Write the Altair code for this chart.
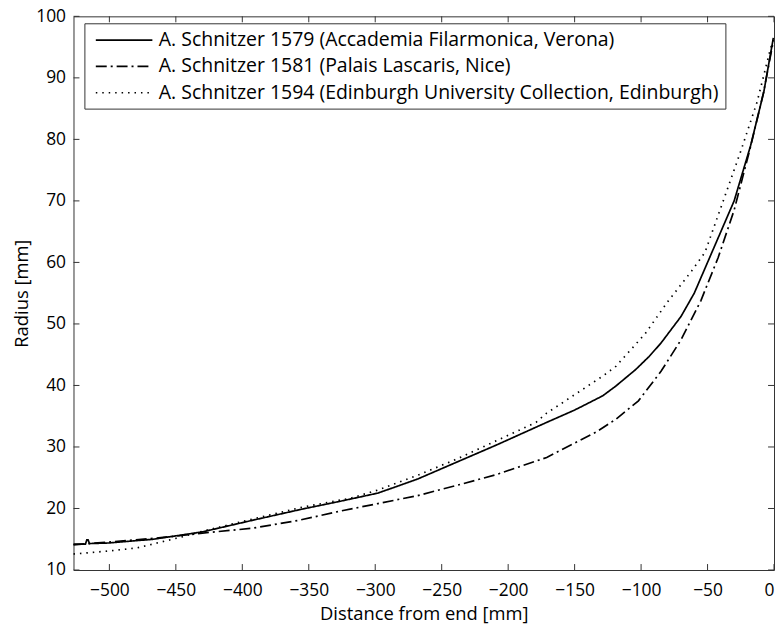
import altair as alt
import pandas as pd

# ---- data ----
names = [
    "A. Schnitzer 1579 (Accademia Filarmonica, Verona)",
    "A. Schnitzer 1581 (Palais Lascaris, Nice)",
    "A. Schnitzer 1594 (Edinburgh University Collection, Edinburgh)",
]

x1579 = [-527, -518, -517, -516, -515, -500, -467, -430, -392, -355, -328, -298, -268, -238,
         -209, -171, -150, -129, -119, -104, -94, -85, -70, -60, -47, -30, -17.6, -7.7, -0.5]
y1579 = [14.2, 14.2, 14.9, 14.9, 14.3, 14.4, 15.0, 16.2, 18.1, 19.9, 21.1, 22.5, 24.8, 27.6,
         30.3, 34.0, 36.0, 38.3, 39.9, 42.6, 44.7, 46.9, 51.2, 55.0, 61.5, 70.0, 79.0, 87.7, 96.5]

x1581 = [-527, -480, -450, -430, -392, -357, -328, -298, -268, -238, -209, -171, -134, -119,
         -102, -85, -70, -55, -42, -30, -18, -8, -0.5]
y1581 = [14.1, 14.9, 15.5, 16.0, 16.8, 18.1, 19.5, 20.8, 22.1, 23.8, 25.5, 28.3, 32.4, 34.5,
         37.5, 42.3, 47.4, 53.8, 60.8, 68.5, 78.5, 87.5, 96.0]

x1594 = [-527, -500, -479, -447, -430, -392, -355, -318, -298, -268, -238, -209, -179, -171,
         -150, -129, -119, -97, -80, -62, -52, -40, -25, -12.7, -2.7, 0]
y1594 = [12.6, 13.1, 13.6, 15.3, 16.3, 18.3, 20.2, 21.7, 23.0, 25.4, 28.1, 31.0, 34.0, 35.5,
         38.5, 41.5, 43.1, 48.4, 53.6, 58.6, 61.6, 68.9, 78.1, 86.1, 94.7, 96.5]

xticks = [-500, -450, -400, -350, -300, -250, -200, -150, -100, -50, 0]
yticks = [10, 20, 30, 40, 50, 60, 70, 80, 90, 100]

rows = []
for name, xs, ys in zip(names, [x1579, x1581, x1594], [y1579, y1581, y1594]):
    for i, (a, b) in enumerate(zip(xs, ys)):
        rows.append({"series": name, "x": a, "y": b, "i": i})
df = pd.DataFrame(rows)

W, H = 706, 558
FONT = "Open Sans"
xscale = alt.Scale(domain=[-527, 0], nice=False, zero=False)
yscale = alt.Scale(domain=[10, 100], nice=False, zero=False)

lines = alt.Chart(df).mark_line(color="black", strokeWidth=1.7).encode(
    x=alt.X("x:Q", scale=xscale,
            axis=alt.Axis(values=xticks, title="Distance from end [mm]", ticks=False,
                          labelPadding=12, titlePadding=5, domain=False, grid=False)),
    y=alt.Y("y:Q", scale=yscale,
            axis=alt.Axis(values=yticks, title="Radius [mm]", ticks=False,
                          labelPadding=8, titlePadding=4, domain=False, grid=False)),
    strokeDash=alt.StrokeDash(
        "series:N",
        scale=alt.Scale(domain=names, range=[[1, 0], [11, 4, 2, 4], [1.5, 5]]),
        sort=names,
        legend=alt.Legend(title=None, orient="none", legendX=11, legendY=7,
                          symbolType="M-2.85,0H2.85", symbolSize=400, symbolStrokeWidth=1.7,
                          symbolStrokeColor="black", symbolOffset=23,
                          labelFontSize=19.6, labelFont=FONT,
                          labelColor="black", strokeColor="#333", fillColor="white",
                          padding=6, rowPadding=5.5, labelOffset=24, labelLimit=800),
    ),
    order="i:O",
)

xt = pd.DataFrame({"t": xticks})
yt = pd.DataFrame({"t": yticks})
tb = alt.Chart(xt).mark_rule(color="#333").encode(x=alt.X("t:Q", scale=xscale), y=alt.value(H), y2=alt.value(H - 6))
tt = alt.Chart(xt).mark_rule(color="#333").encode(x=alt.X("t:Q", scale=xscale), y=alt.value(0), y2=alt.value(6))
tl = alt.Chart(yt).mark_rule(color="#333").encode(y=alt.Y("t:Q", scale=yscale), x=alt.value(0), x2=alt.value(6))
tr = alt.Chart(yt).mark_rule(color="#333").encode(y=alt.Y("t:Q", scale=yscale), x=alt.value(W), x2=alt.value(W - 6))

chart = alt.layer(lines, tb, tt, tl, tr).properties(
    width=W, height=H,
    autosize=alt.AutoSizeParams(type="none"),
    padding={"left": 66, "top": 6, "right": 2, "bottom": 52},
).configure_view(stroke="#333", strokeWidth=1).configure_axis(
    labelFont=FONT, titleFont=FONT, labelFontSize=17.5, titleFontSize=18.5,
    labelColor="black", titleColor="black", titleFontWeight="normal",
)

chart.save("out.html", embed_options={"renderer": "svg", "actions": False})
